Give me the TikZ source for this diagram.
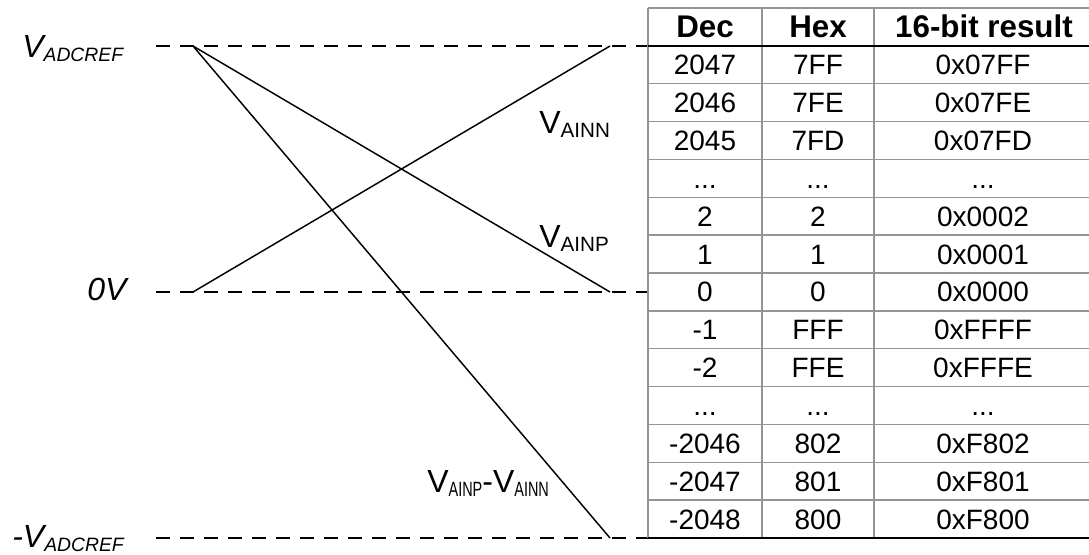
\documentclass[tikz,border=0pt]{standalone}
\usepackage{fontspec}
\setmainfont{Liberation Sans}
\usetikzlibrary{calc, positioning}

\newcommand{\skiprow}{...}
\newcommand{\lvsub}[1]{\raisebox{-3.5pt}{\fontsize{14.5}{15}\selectfont #1}}
\newcommand{\ainsub}[1]{\raisebox{-3pt}{\fontsize{15.5}{16}\selectfont #1}}
\newcommand{\diffsub}[1]{\raisebox{-3pt}{\scalebox{0.7}[1]{\fontsize{15.5}{16}\selectfont #1}}}

\begin{document}
\begin{tikzpicture}[x=0.75pt,y=-0.75pt]
\useasboundingbox (0,0) rectangle (1089,554);
\tikzset{
  level/.style={line width=1.1pt, dash pattern=on 10.5pt off 7.5pt},
  ramp/.style={line width=1.1pt},
  lvlabel/.style={inner sep=0pt, anchor=base west, font=\fontsize{24}{28}\selectfont\itshape},
  ainlabel/.style={inner sep=0pt, anchor=base west, font=\fontsize{24}{28}\selectfont},
  cell/.style={inner sep=0pt, anchor=base, font=\fontsize{21}{24}\selectfont},
  headcell/.style={inner sep=0pt, anchor=base, font=\fontsize{23.5}{26}\selectfont\bfseries},
  grid/.style={line width=1.1pt, color=black!42}
}
% reference levels
\coordinate (refL) at (156,46);
\coordinate (refR) at (648,46);
\coordinate (zeroL) at (156,292);
\coordinate (zeroR) at (648,292);
\coordinate (nrefL) at (156,538);
\coordinate (nrefR) at (648,538);
% ramp end points
\coordinate (P0) at (193,46);
\coordinate (P1) at (610,292);
\coordinate (N0) at (193,292);
\coordinate (N1) at (610,46);
\coordinate (D1) at (610,538);

\draw[level] (refL) -- (refR);
\draw[level] (zeroL) -- (zeroR);
\draw[level] (nrefL) -- (nrefR);
\draw[ramp] (P0) -- (P1);
\draw[ramp] (N0) -- (N1);
\draw[ramp] (P0) -- (D1);

\node[lvlabel] (vref) at (22,57) {V\lvsub{ADCREF}};
\node[lvlabel] (vzero) at (87,300) {0V};
\node[lvlabel] (vnref) at (12,547) {-V\lvsub{ADCREF}};
\node[ainlabel] (vainn) at (539,133) {V\ainsub{AINN}};
\node[ainlabel] (vainp) at (539,247) {V\ainsub{AINP}};
\node[ainlabel] (vdiff) at (427,492) {V\diffsub{AINP}-V\diffsub{AINN}};

% table grid
\foreach \k in {0,2,3,...,13}
  \draw[grid] (648,{8+37.86*\k}) -- (1089,{8+37.86*\k});
\foreach \x in {648,762,874}
  \draw[grid] (\x,8) -- (\x,538);
\draw[line width=1.3pt] (648,45.86) -- (1089,45.86);
\draw[line width=1.3pt] (648,538) -- (1089,538);

% table text
\node[headcell] (dec0) at (705,37) {Dec};
\node[headcell] (hex0) at (818,37) {Hex};
\node[headcell] (res0) at (984,37) {16-bit result};
\foreach \i/\d/\h/\r in {1/2047/7FF/0x07FF, 2/2046/7FE/0x07FE, 3/2045/7FD/0x07FD,
    4/\skiprow/\skiprow/\skiprow, 5/2/2/0x0002, 6/1/1/0x0001, 7/0/0/0x0000,
    8/-1/FFF/0xFFFF, 9/-2/FFE/0xFFFE, 10/\skiprow/\skiprow/\skiprow,
    11/-2046/802/0xF802, 12/-2047/801/0xF801, 13/-2048/800/0xF800}{
  \node[cell] (dec\i) at (705,{36.93+37.86*\i}) {\d};
  \node[cell] (hex\i) at (818,{36.93+37.86*\i}) {\h};
  \node[cell] (res\i) at (983,{36.93+37.86*\i}) {\r};
}
\end{tikzpicture}
\end{document}
